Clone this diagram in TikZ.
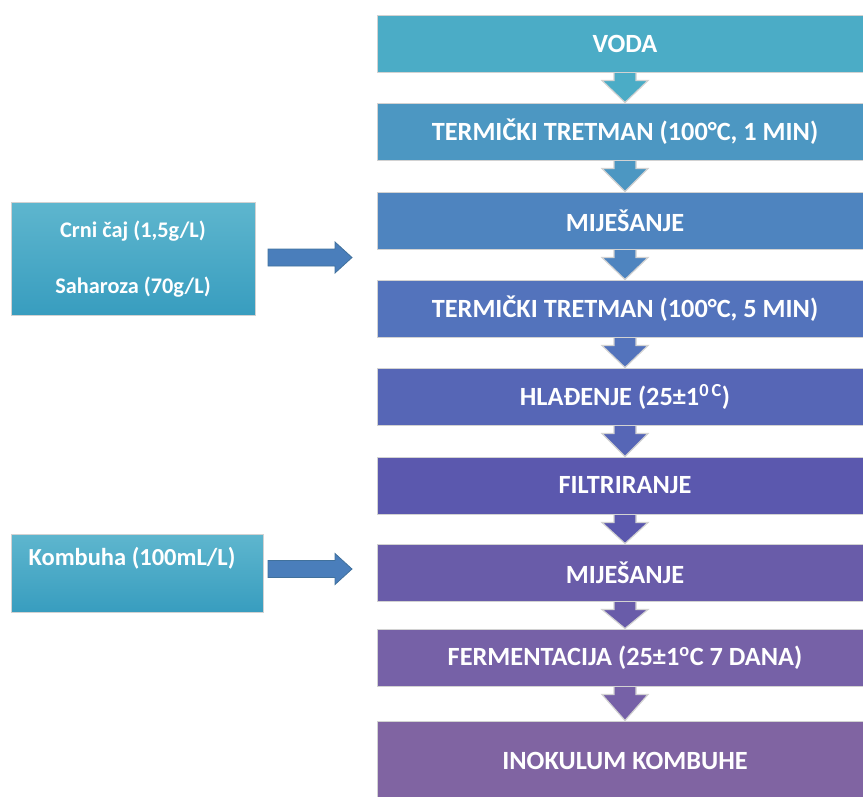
\documentclass[tikz,border=0pt]{standalone}
\usepackage{fontspec}
\setmainfont{Carlito}
\usetikzlibrary{calc}

% step colours, teal to purple
\definecolor{s0}{HTML}{4BACC6}
\definecolor{s1}{HTML}{4C97C2}
\definecolor{s2}{HTML}{4E84BF}
\definecolor{s3}{HTML}{5373BC}
\definecolor{s4}{HTML}{5666B6}
\definecolor{s5}{HTML}{5B58AE}
\definecolor{s6}{HTML}{695CA9}
\definecolor{s7}{HTML}{7661A7}
\definecolor{s8}{HTML}{8064A2}
\definecolor{sideTop}{HTML}{5EB6CE}
\definecolor{sideBot}{HTML}{389DBF}
\definecolor{sideArrow}{HTML}{4A7EBB}
\definecolor{sideArrowLine}{HTML}{41719C}
\definecolor{rim}{HTML}{D2D2D2}

\pgfdeclarelayer{arrowlayer}
\pgfsetlayers{arrowlayer,main}

\tikzset{
  stepbox/.style={draw=rim, line width=1pt, minimum width=496pt, inner sep=0pt,
    text=white, font=\bfseries\fontsize{26.3}{31}\selectfont},
  sidebox/.style={draw=rim, line width=1pt, inner sep=0pt,
    top color=sideTop, bottom color=sideBot},
  sidetext/.style={text=white, inner sep=0pt, anchor=base},
  downarrow/.style={draw=rim, line width=1.2pt, line join=miter},
  rightarrow/.style={draw=sideArrowLine, fill=sideArrow, line width=0.8pt},
}

% block arrow pointing down from the bottom of #1 to the top of #2
\newcommand\flowdown[3]{%
  \draw[downarrow, fill=#3]
    ($(#1.south)+(-11,-3)$) -- ($(#1.south)+(-11,8)$) -- ($(#1.south)+(-23,8)$)
    -- (#2.north) -- ($(#1.south)+(23,8)$) -- ($(#1.south)+(11,8)$)
    -- ($(#1.south)+(11,-3)$) -- cycle;}
% block arrow pointing right, ending at coordinate #1
\newcommand\flowright[1]{%
  \draw[rightarrow]
    ($(#1)+(-84,-8.5)$) -- ($(#1)+(-17,-8.5)$) -- ($(#1)+(-17,-15.5)$)
    -- (#1) -- ($(#1)+(-17,15.5)$) -- ($(#1)+(-17,8.5)$)
    -- ($(#1)+(-84,8.5)$) -- cycle;}

\begin{document}
\begin{tikzpicture}[x=1pt, y=-1pt]
\useasboundingbox (0,0) rectangle (863,796);
\clip (0,0) rectangle (863,796);

% main sequence
\node[stepbox, minimum height=57pt, fill=s0] (voda)  at (625,43.5)  {VODA};
\node[stepbox, minimum height=57pt, fill=s1] (term1) at (625,131.5) {TERMIČKI TRETMAN (100°C, 1 MIN)};
\node[stepbox, minimum height=57pt, fill=s2] (mij1)  at (625,220.5) {MIJEŠANJE};
\node[stepbox, minimum height=57pt, fill=s3] (term2) at (625,308.5) {TERMIČKI TRETMAN (100°C, 5 MIN)};
\node[stepbox, minimum height=57pt, fill=s4] (hla)   at (625,396.5) {HLAĐENJE (25±1\textsuperscript{0\,C})};
\node[stepbox, minimum height=57pt, fill=s5] (fil)   at (625,485.5) {FILTRIRANJE};
\node[stepbox, minimum height=57pt, fill=s6] (mij2)  at (625,572.5) {MIJEŠANJE};
\node[stepbox, minimum height=57pt, fill=s7] (ferm)  at (625,657.5) {FERMENTACIJA (25±1\textsuperscript{o}C 7 DANA)};
\node[stepbox, minimum height=79pt, fill=s8] (ino)   at (625,760.5) {INOKULUM KOMBUHE};

% arrows between the steps, kept under the boxes
\begin{pgfonlayer}{arrowlayer}
\flowdown{voda}{term1}{s0}
\flowdown{term1}{mij1}{s1}
\flowdown{mij1}{term2}{s2}
\flowdown{term2}{hla}{s3}
\flowdown{hla}{fil}{s4}
\flowdown{fil}{mij2}{s5}
\flowdown{mij2}{ferm}{s6}
\flowdown{ferm}{ino}{s7}
\end{pgfonlayer}

% ingredients
\node[sidebox, minimum width=244pt, minimum height=113pt] (tea) at (133,258.5) {};
\node[sidetext, font=\bfseries\fontsize{22.3}{26}\selectfont] (teaA) at (133,237) {Crni čaj (1,5g/L)};
\node[sidetext, font=\bfseries\fontsize{22.3}{26}\selectfont] (teaB) at (133,293) {Saharoza (70g/L)};
\node[sidebox, minimum width=252pt, minimum height=78pt] (kom) at (137,573) {};
\node[sidetext, font=\bfseries\fontsize{24.5}{28}\selectfont] (komA) at (132,565) {Kombuha (100mL/L)};

\coordinate (tipA) at (352,257.5);
\coordinate (tipB) at (352,569);
\flowright{tipA}
\flowright{tipB}
\end{tikzpicture}
\end{document}
